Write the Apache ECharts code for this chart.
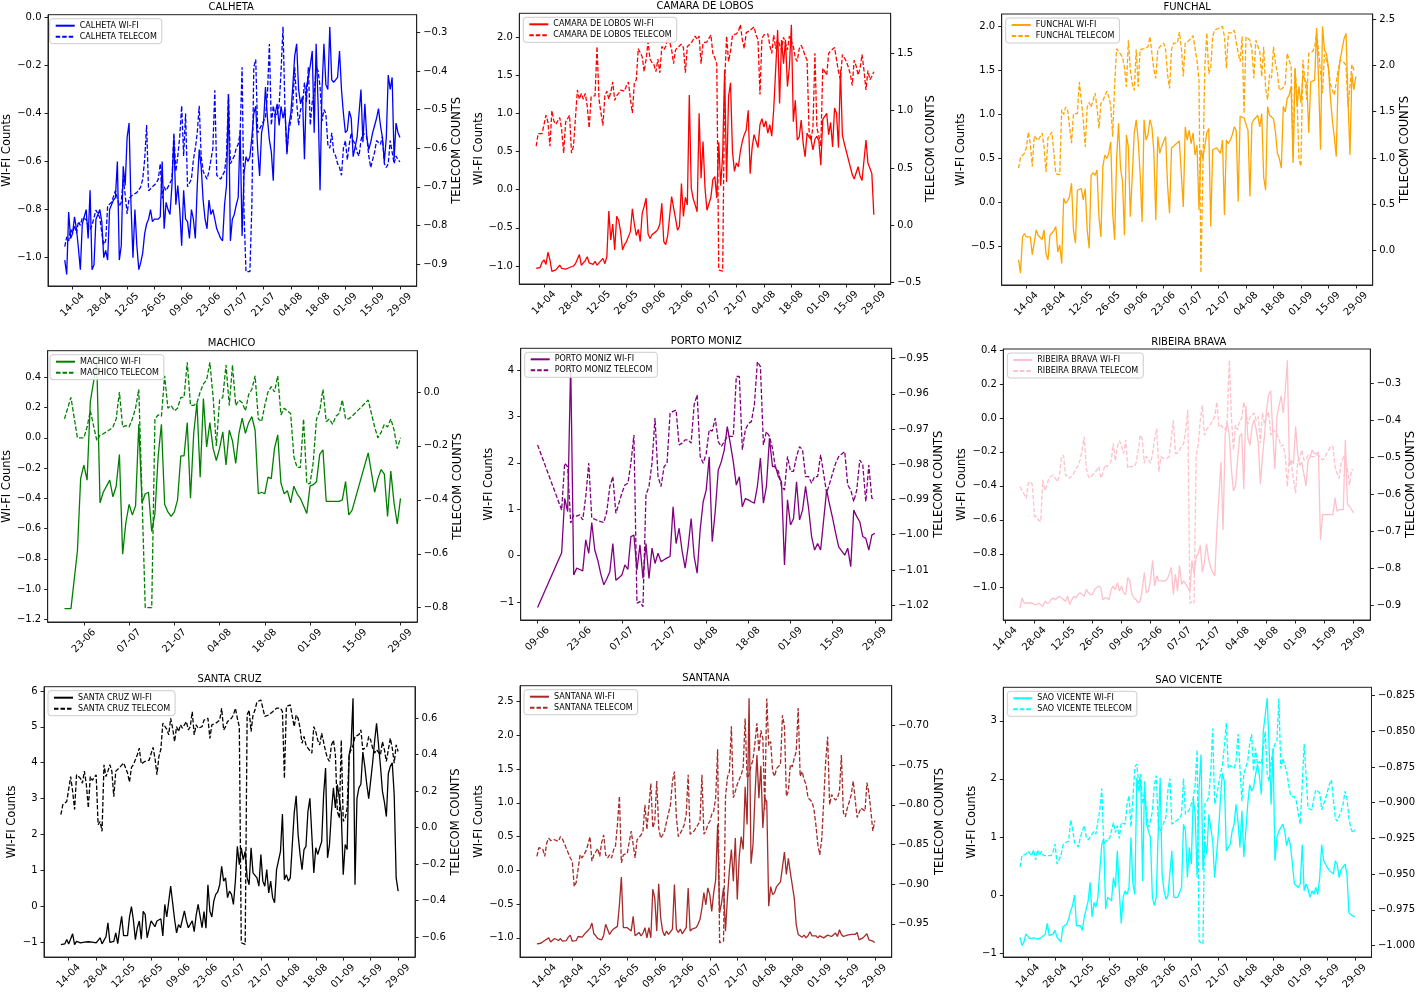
<!DOCTYPE html>
<html><head><meta charset="utf-8">
<script src="https://cdn.jsdelivr.net/npm/echarts@6/dist/echarts.min.js"></script>
<style>html,body{margin:0;padding:0;background:#fff}#c{width:1418px;height:992px}</style>
</head><body><div id="c"></div>
<script>
// ---------- DATA ----------
// x values are days counted from 14-04 (day 0)
const xTickDays = [0,14,28,42,56,70,84,98,112,126,140,154,168];
const xTickLabels = ['14-04','28-04','12-05','26-05','09-06','23-06','07-07','21-07','04-08','18-08','01-09','15-09','29-09'];
const dailyStart = -4;   // 10-04
const ribeiraStart = 7;  // 21-04

const calhetaWifi = [
 -1.01,-1.07,-0.81,-0.92,-0.90,-0.83,-0.88,-0.96,-1.05,-0.86,-0.83,-0.80,-0.92,-0.72,
 -1.05,-1.03,-0.84,-0.82,-0.80,-0.85,-1.00,-0.97,-1.01,-0.80,-0.78,-0.76,-0.75,-0.60,
 -1.01,-0.95,-0.62,-0.70,-0.50,-0.44,-0.78,-1.00,-0.80,-0.95,-1.05,-1.02,-0.98,-0.90,
 -0.86,-0.84,-0.80,-0.85,-0.84,-0.84,-0.84,-0.83,-0.60,-0.88,-0.77,-0.80,-0.82,-0.70,
 -0.50,-0.78,-0.70,-0.80,-0.95,-0.72,-0.84,-0.85,-0.92,-0.80,-0.84,-0.92,-0.70,-0.55,
 -0.62,-0.76,-0.84,-0.88,-0.76,-0.82,-0.80,-0.84,-0.88,-0.90,-0.92,-0.93,-0.78,-0.70,
 -0.32,-0.93,-0.84,-0.82,-0.78,-0.75,-0.47,-0.91,-0.65,-0.58,-0.60,-0.58,-0.50,-0.40,
 -0.37,-0.55,-0.66,-0.48,-0.44,-0.29,-0.42,-0.51,-0.56,-0.68,-0.40,-0.36,-0.45,-0.37,
 -0.42,-0.38,-0.57,-0.45,-0.40,-0.29,-0.16,-0.11,-0.30,-0.36,-0.33,-0.59,-0.29,-0.25,
 -0.20,-0.14,-0.48,-0.11,-0.36,-0.72,-0.30,-0.11,-0.28,-0.30,-0.04,-0.26,-0.27,-0.26,
 -0.25,-0.14,-0.30,-0.40,-0.48,-0.47,-0.39,-0.42,-0.58,-0.58,-0.50,-0.40,-0.30,-0.52,
 -0.36,-0.50,-0.55,-0.52,-0.48,-0.45,-0.42,-0.38,-0.45,-0.50,-0.60,-0.50,-0.24,-0.30,
 -0.25,-0.59,-0.44,-0.48,-0.50];
const calhetaTel = [
 -0.855,-0.83,-0.84,-0.81,-0.82,-0.80,-0.82,-0.79,-0.80,-0.78,-0.78,-0.785,-0.80,-0.81,
 -0.80,-0.78,-0.76,-0.77,-0.78,-0.82,-0.85,-0.84,-0.75,-0.75,-0.74,-0.74,-0.71,-0.73,
 -0.75,-0.74,-0.68,-0.72,-0.77,-0.73,-0.73,-0.72,-0.72,-0.715,-0.71,-0.70,-0.68,-0.63,
 -0.54,-0.71,-0.71,-0.70,-0.70,-0.69,-0.68,-0.64,-0.73,-0.70,-0.71,-0.71,-0.69,-0.68,
 -0.56,-0.66,-0.62,-0.57,-0.49,-0.62,-0.51,-0.70,-0.69,-0.68,-0.63,-0.60,-0.56,-0.49,
 -0.62,-0.66,-0.67,-0.68,-0.66,-0.66,-0.60,-0.45,-0.67,-0.67,-0.68,-0.68,-0.66,-0.62,
 -0.46,-0.64,-0.63,-0.62,-0.60,-0.59,-0.56,-0.39,-0.77,-0.92,-0.92,-0.92,-0.75,-0.39,
 -0.37,-0.56,-0.55,-0.54,-0.54,-0.52,-0.46,-0.33,-0.54,-0.49,-0.52,-0.51,-0.49,-0.40,
 -0.285,-0.50,-0.61,-0.55,-0.53,-0.49,-0.39,-0.48,-0.54,-0.50,-0.49,-0.43,-0.48,-0.39,
 -0.54,-0.48,-0.46,-0.39,-0.40,-0.44,-0.53,-0.50,-0.51,-0.59,-0.60,-0.56,-0.61,-0.62,
 -0.64,-0.65,-0.67,-0.60,-0.58,-0.63,-0.59,-0.56,-0.58,-0.59,-0.61,-0.62,-0.58,-0.56,
 -0.56,-0.57,-0.62,-0.65,-0.65,-0.61,-0.58,-0.58,-0.59,-0.57,-0.64,-0.65,-0.64,-0.58,
 -0.58,-0.64,-0.62,-0.63,-0.635];

const camaraWifi = [
 -1.03,-1.04,-1.02,-0.95,-0.92,-0.98,-0.82,-0.92,-1.07,-1.06,-1.05,-1.06,-0.99,-1.03,
 -1.05,-1.04,-1.03,-1.02,-1.01,-1.00,-0.97,-0.99,-0.85,-0.99,-0.97,-0.93,-0.88,-0.96,
 -0.96,-0.98,-0.94,-0.99,-0.96,-0.98,-0.90,-0.97,-0.88,-0.28,-0.66,-0.45,-0.79,-0.35,
 -0.40,-0.55,-0.79,-0.72,-0.68,-0.66,-0.55,-0.25,-0.45,-0.60,-0.52,-0.68,-0.31,-0.22,
 -0.11,-0.58,-0.64,-0.59,-0.57,-0.55,-0.52,-0.45,-0.18,-0.68,-0.72,-0.60,-0.58,-0.09,
 -0.08,-0.38,-0.53,-0.48,0.08,-0.35,-0.10,-0.20,1.24,0.02,-0.12,-0.20,-0.29,1.00,
 0.15,0.63,0.02,-0.27,-0.27,-0.10,0.13,0.17,-0.11,0.62,0.05,0.45,1.57,0.10,
 1.22,1.40,0.50,0.24,0.35,0.30,0.50,0.63,0.72,0.78,1.04,0.21,0.55,0.72,
 0.72,0.55,0.85,0.93,0.82,0.90,0.74,0.85,0.70,1.05,1.04,2.09,1.13,1.96,
 1.65,1.96,1.35,1.61,2.16,0.89,1.17,0.65,0.69,0.91,0.61,0.43,0.74,0.69,
 0.66,0.52,0.66,0.70,0.64,0.32,0.92,0.90,1.00,0.72,0.88,0.56,1.07,1.00,
 0.55,1.57,0.71,0.60,0.50,0.40,0.30,0.20,0.14,0.12,0.30,0.18,0.12,0.13,
 0.65,0.35,0.28,0.21,-0.33];
const camaraTel = [
 0.69,0.80,0.80,0.80,0.81,0.96,0.90,0.69,1.00,0.91,0.88,0.89,0.94,0.83,
 0.63,0.90,0.91,0.96,0.63,0.69,0.69,1.18,1.10,1.15,1.10,1.15,1.04,0.85,
 1.12,1.12,1.13,1.56,1.10,0.98,0.87,1.13,1.17,1.10,1.16,1.25,1.09,1.13,
 1.15,1.18,1.19,1.17,1.22,1.25,1.10,0.98,1.24,1.27,1.54,1.55,1.47,1.34,
 1.45,1.60,1.45,1.42,1.40,1.34,1.45,1.33,1.56,1.53,1.56,1.64,1.60,1.53,
 1.41,1.53,1.55,1.56,1.58,1.55,1.33,1.56,1.56,1.59,1.59,1.65,1.62,1.65,
 1.41,1.59,1.59,1.60,1.63,1.66,1.50,1.46,1.41,-0.39,-0.40,-0.40,1.24,1.65,
 1.43,1.52,1.66,1.67,1.67,1.69,1.75,1.62,1.54,1.68,1.67,1.70,1.71,1.73,
 1.66,1.62,1.14,1.63,1.66,1.67,1.67,1.57,1.50,1.66,1.54,1.62,1.62,1.53,
 1.64,1.65,1.53,1.65,1.65,1.56,1.46,1.43,1.54,1.57,1.53,1.48,1.44,0.83,
 0.74,0.86,1.50,0.85,0.78,0.69,1.37,1.38,1.31,1.50,1.52,1.53,1.55,1.56,
 1.34,1.27,1.49,1.48,1.43,1.38,1.32,1.22,1.44,1.39,1.31,1.37,1.49,1.35,
 1.18,1.35,1.27,1.30,1.34];

const funchalWifi = [
 -0.65,-0.80,-0.39,-0.35,-0.39,-0.38,-0.39,-0.59,-0.59,-0.31,-0.37,-0.38,-0.42,-0.31,
 -0.58,-0.65,-0.37,-0.35,-0.32,-0.27,-0.56,-0.48,-0.69,0.05,-0.01,0.02,0.07,0.22,
 -0.31,-0.46,0.14,0.14,0.16,0.03,0.16,-0.31,-0.52,0.31,0.34,0.31,0.37,-0.16,
 -0.39,0.41,0.54,0.50,0.56,0.69,-0.12,-0.42,0.50,0.90,0.39,0.24,-0.37,0.77,
 0.63,-0.16,-0.16,0.79,0.94,0.71,0.33,-0.22,0.94,0.71,0.77,0.94,0.86,0.58,
 -0.20,0.75,0.56,0.64,0.66,0.75,0.19,-0.12,0.62,0.64,0.66,0.68,0.70,0.71,
 -0.05,0.86,0.71,0.82,0.67,0.79,0.54,0.65,-0.08,0.60,0.50,0.48,0.79,0.84,
 -0.27,0.60,0.62,0.62,0.60,0.56,0.71,-0.14,0.71,0.67,0.71,0.77,0.86,0.82,
 0.01,0.98,0.98,0.96,0.94,0.82,0.07,0.90,0.94,0.96,0.99,0.86,1.01,0.29,
 0.14,1.09,0.99,0.97,0.95,0.80,0.56,0.50,0.39,1.09,1.03,1.18,1.22,1.32,
 0.45,1.52,1.09,1.32,1.13,1.45,1.39,1.35,0.79,1.37,1.35,1.39,1.98,1.39,
 0.60,2.00,1.73,1.69,1.54,1.20,0.94,0.75,0.52,1.43,1.62,1.62,1.86,1.92,
 1.17,0.54,1.47,1.28,1.43];
const funchalTel = [
 0.89,1.01,1.03,1.05,1.11,1.28,1.15,0.91,1.24,1.22,1.19,1.19,1.27,1.12,
 0.85,1.22,1.24,1.28,1.30,0.83,0.85,0.82,1.52,1.47,1.55,1.52,1.34,1.16,
 1.48,1.50,1.48,1.82,1.62,1.42,1.12,1.55,1.60,1.55,1.62,1.70,1.55,1.32,
 1.59,1.62,1.64,1.72,1.66,1.57,1.23,1.80,2.18,2.20,2.12,2.09,1.98,1.77,
 2.27,1.95,1.80,1.73,2.17,1.77,2.17,2.17,2.18,2.20,2.20,2.31,2.13,1.95,
 1.86,2.17,2.20,2.19,2.24,2.17,1.90,1.75,2.17,2.24,2.22,2.24,2.36,2.20,
 1.88,2.24,2.26,2.27,2.29,2.32,2.34,2.05,1.84,-0.24,-0.24,1.99,2.35,1.91,
 1.97,2.31,2.38,2.40,2.40,2.41,2.42,2.31,1.97,2.35,2.33,2.35,2.38,2.38,
 2.13,2.04,2.31,1.48,2.31,2.31,2.27,2.17,1.86,2.27,2.26,2.15,1.88,2.20,
 1.75,1.63,1.90,1.86,2.20,2.02,1.92,1.73,1.73,1.76,1.80,2.13,2.11,1.98,
 1.01,1.97,1.66,0.98,0.91,2.06,1.85,1.63,2.13,2.13,2.15,2.20,2.35,2.15,
 2.13,1.70,2.12,2.13,1.98,1.80,1.73,1.68,1.66,1.95,2.06,2.06,2.03,2.00,
 1.55,1.77,2.01,1.95,1.95];

const machicoDays = [64,66,68,69,70,71,72,74,75,76,
 78,79,80,81,82,83,84,85,86,87,88,89,90,91,92,93,94,95,96,97,98,99,100,101,102,103,104,105,106,107,108,109,110,111,112,113,114,115,
 116,117,118,119,120,121,122,123,124,125,126,127,128,129,130,131,132,133,134,135,136,137,138,139,140,141,142,143,144,145,146,147,148,149,150,151,152,153,
 158,160,161,162,163,164,165,166,167,168];
const machicoWifi = [-1.13,-1.13,-0.75,-0.27,-0.18,-0.28,0.24,0.50,-0.43,-0.36,
 -0.28,-0.39,-0.32,-0.11,-0.77,-0.56,-0.44,-0.51,-0.45,0.09,-0.43,-0.37,-0.36,-0.62,-0.50,-0.12,0.09,-0.44,-0.49,-0.52,-0.49,-0.41,-0.12,-0.12,0.10,-0.40,0.03,0.23,-0.26,0.26,-0.06,0.10,-0.07,-0.15,-0.07,0.04,-0.18,0.05,
 -0.02,-0.17,0.03,0.13,0.03,0.10,0.14,0.05,-0.37,-0.36,-0.37,-0.26,-0.27,-0.07,0.02,-0.30,-0.37,-0.35,-0.43,-0.32,-0.37,-0.40,-0.45,-0.50,-0.32,-0.31,-0.29,-0.11,-0.08,-0.42,-0.42,-0.42,-0.42,-0.42,-0.41,-0.29,-0.51,-0.48,
 -0.10,-0.36,-0.27,-0.21,-0.24,-0.52,-0.22,-0.43,-0.57,-0.40];
const machicoTel = [-0.10,-0.02,-0.17,-0.17,-0.17,-0.13,-0.07,-0.18,-0.16,-0.155,
 -0.14,-0.13,-0.10,0.00,-0.13,-0.125,-0.13,-0.10,-0.06,0.01,-0.39,-0.80,-0.80,-0.80,-0.10,-0.085,-0.09,0.06,-0.06,-0.05,-0.07,-0.06,-0.02,-0.02,0.11,-0.05,-0.05,-0.04,0.00,0.03,0.045,0.11,-0.02,-0.20,-0.03,-0.02,0.10,-0.05,
 0.10,-0.05,-0.03,-0.04,-0.07,-0.01,0.01,0.06,-0.10,-0.11,-0.05,0.00,0.02,0.00,0.06,-0.085,-0.06,-0.07,-0.08,-0.24,-0.28,-0.28,-0.10,-0.34,-0.34,-0.26,-0.10,-0.07,0.01,-0.11,-0.10,-0.12,-0.09,-0.08,-0.03,-0.10,-0.10,-0.09,
 -0.03,-0.13,-0.17,-0.15,-0.12,-0.13,-0.10,-0.14,-0.21,-0.17];

const portoDays = [56,
 64,65,66,67,68,69,70,71,72,73,74,75,76,77,78,79,80,81,82,83,84,85,86,87,88,89,90,91,92,93,94,95,96,97,98,99,100,101,102,103,104,105,106,107,
 108,109,110,111,112,113,114,115,116,117,118,119,120,121,122,123,124,125,126,127,128,129,130,131,132,133,134,135,136,137,138,139,140,141,142,143,144,145,146,147,148,149,150,
 152,153,154,155,156,158,159,160,161,162,163,164,165,166,167,168];
const portoWifi = [-1.12,
 0.06,1.23,0.95,4.15,-0.42,-0.27,-0.30,-0.33,0.34,0.05,0.71,0.12,-0.10,-0.40,-0.63,-0.50,-0.35,0.26,-0.53,-0.48,-0.42,-0.20,-0.30,0.41,0.44,-0.31,0.23,-0.49,0.26,-0.49,0.16,-0.17,0.05,-0.13,-0.09,-0.05,-0.02,1.05,0.26,0.59,0.10,-0.27,0.19,0.80,
 -0.02,-0.38,0.56,1.16,1.41,2.13,0.30,0.95,1.84,2.02,2.28,2.78,2.42,2.02,1.52,1.70,1.05,1.23,1.20,1.16,1.13,1.49,2.10,1.13,1.49,2.53,1.92,1.92,1.70,1.59,-0.20,1.20,0.66,0.80,1.59,0.77,0.98,1.49,1.02,0.41,0.12,0.26,0.12,
 1.41,1.09,0.80,0.48,0.19,0.01,0.16,-0.24,0.98,0.84,0.73,0.41,0.37,0.12,0.44,0.48];
const portoTel = [-0.9745,
 -0.9930,-0.9797,-0.9807,-0.9967,-0.9944,-0.9947,-0.9944,-0.9958,-0.9892,-0.9797,-0.9953,-0.9956,-0.9960,-0.9963,-0.9965,-0.9934,-0.9863,-0.9835,-0.9939,-0.9911,-0.9882,-0.9859,-0.9854,-0.9797,-0.9717,-1.0194,-1.0190,-1.0204,-0.9887,-0.9863,-0.9797,-0.9669,-0.9835,-0.9863,-0.9807,-0.9797,-0.9655,-0.9650,-0.9646,-0.9745,-0.9740,-0.9731,-0.9731,-0.9740,
 -0.9631,-0.9603,-0.9778,-0.9797,-0.9770,-0.9702,-0.9706,-0.9669,-0.9736,-0.9750,-0.9736,-0.9721,-0.9721,-0.9721,-0.9551,-0.9551,-0.9759,-0.9702,-0.9684,-0.9679,-0.9631,-0.9509,-0.9523,-0.9745,-0.9707,-0.9721,-0.9754,-0.9811,-0.9820,-0.9863,-0.9873,-0.9778,-0.9820,-0.9820,-0.9778,-0.9750,-0.9759,-0.9835,-0.9835,-0.9854,-0.9835,-0.9835,-0.9773,
 -0.9882,-0.9854,-0.9825,-0.9797,-0.9778,-0.9764,-0.9859,-0.9873,-0.9906,-0.9873,-0.9788,-0.9802,-0.9906,-0.9802,-0.9896,-0.9901];

const ribeiraWifi = [
 -1.12,-1.06,-1.09,-1.09,-1.09,-1.09,-1.09,-1.10,-1.10,-1.09,-1.10,-1.11,-1.08,-1.09,
 -1.09,-1.07,-1.06,-1.07,-1.06,-1.05,-1.06,-1.07,-1.08,-1.05,-1.10,-1.07,-1.05,-1.06,
 -1.04,-1.03,-1.04,-1.05,-1.01,-1.03,-1.04,-1.04,-1.01,-1.00,-0.99,-1.00,-1.07,-1.06,
 -1.06,-1.07,-1.01,-0.99,-1.01,-0.97,-1.02,-0.99,-1.03,-1.04,-0.94,-0.96,-1.04,-1.06,
 -1.07,-1.09,-1.08,-1.01,-0.91,-1.03,-1.02,-0.95,-0.84,-0.99,-0.93,-0.96,-0.96,-0.96,
 -0.96,-0.95,-0.92,-0.88,-1.04,-0.92,-1.02,-0.87,-0.98,-0.96,-0.98,-1.00,-1.02,-0.84,
 -0.92,-0.82,-0.80,-0.75,-0.91,-0.85,-0.74,-0.83,-0.88,-0.91,-0.93,-0.66,-0.46,-0.26,
 -0.66,-0.10,-0.03,-0.10,-0.30,-0.43,-0.40,-0.25,-0.11,-0.09,-0.42,0.07,-0.12,-0.16,
 -0.05,-0.01,-0.07,-0.15,-0.39,-0.23,-0.10,0.05,0.14,0.16,-0.09,-0.30,0.01,0.07,
 0.13,0.03,0.16,0.34,-0.28,-0.25,-0.27,-0.05,-0.21,-0.28,-0.26,-0.33,-0.40,-0.25,
 -0.23,-0.19,-0.21,-0.21,-0.20,-0.72,-0.57,-0.57,-0.57,-0.57,-0.57,-0.57,-0.47,-0.55,
 -0.54,-0.54,-0.54,-0.13,-0.51,-0.52,-0.54,-0.56];
const ribeiraTel = [
 -0.579,-0.59,-0.60,-0.611,-0.57,-0.565,-0.575,-0.66,-0.66,-0.67,-0.674,-0.561,-0.59,-0.575,
 -0.555,-0.552,-0.548,-0.556,-0.566,-0.552,-0.50,-0.494,-0.55,-0.548,-0.556,-0.552,-0.543,-0.530,
 -0.525,-0.507,-0.48,-0.444,-0.53,-0.552,-0.556,-0.547,-0.543,-0.535,-0.525,-0.556,-0.543,-0.52,
 -0.525,-0.52,-0.51,-0.462,-0.51,-0.47,-0.455,-0.47,-0.49,-0.453,-0.53,-0.525,-0.525,-0.525,
 -0.516,-0.485,-0.44,-0.45,-0.516,-0.497,-0.507,-0.516,-0.49,-0.45,-0.422,-0.539,-0.498,-0.503,
 -0.503,-0.503,-0.498,-0.45,-0.40,-0.489,-0.489,-0.48,-0.47,-0.462,-0.426,-0.372,-0.895,-0.89,
 -0.895,-0.498,-0.466,-0.40,-0.359,-0.44,-0.426,-0.417,-0.41,-0.40,-0.39,-0.35,-0.418,-0.413,
 -0.42,-0.426,-0.40,-0.237,-0.39,-0.48,-0.413,-0.426,-0.40,-0.395,-0.35,-0.38,-0.41,-0.39,
 -0.386,-0.38,-0.40,-0.39,-0.462,-0.38,-0.41,-0.39,-0.377,-0.44,-0.426,-0.43,-0.437,-0.45,
 -0.47,-0.466,-0.497,-0.579,-0.50,-0.52,-0.56,-0.597,-0.51,-0.503,-0.48,-0.507,-0.507,-0.494,
 -0.498,-0.498,-0.498,-0.494,-0.494,-0.50,-0.507,-0.503,-0.489,-0.48,-0.47,-0.47,-0.525,-0.543,
 -0.557,-0.515,-0.50,-0.494,-0.534,-0.575,-0.534,-0.534];

const santaCruzWifi = [
 -1.07,-1.06,-1.05,-0.93,-1.05,-1.02,-0.77,-1.07,-0.98,-0.93,-1.02,-0.99,-1.00,-0.99,
 -0.99,-1.01,-1.00,-0.95,-1.02,-1.07,-0.88,-1.05,-1.00,-0.85,-0.46,-1.01,-1.00,-0.98,
 -0.74,-1.04,-0.64,-0.28,-0.82,-0.86,-0.82,-0.30,-0.01,-0.39,-0.93,-0.60,-0.41,-0.92,
 -0.14,-0.23,-0.88,-0.64,-0.41,-0.41,-0.57,-0.41,-0.37,-0.35,-0.83,0.05,-0.30,-0.28,
 0.56,0.56,-0.37,-0.74,-0.51,-0.60,-0.60,-0.13,-0.40,-0.60,-0.65,-0.41,-0.71,-0.25,
 0.05,0.00,-0.60,-0.15,-0.61,0.60,-0.14,-0.30,0.15,0.33,0.40,0.60,1.11,0.70,
 0.79,0.24,0.42,0.33,0.05,0.70,1.67,1.16,1.63,1.30,1.53,0.79,0.60,1.63,
 0.93,0.88,0.79,0.56,1.44,0.70,0.56,1.02,0.37,0.70,0.24,0.10,1.02,1.02,
 1.53,2.57,0.74,0.88,0.70,0.79,0.83,2.60,3.08,1.99,1.44,1.02,1.58,1.67,
 2.64,3.01,3.06,0.93,1.63,1.44,1.63,1.80,3.11,3.85,1.35,1.72,2.64,3.30,
 2.74,3.39,3.01,2.60,0.88,1.72,1.58,4.22,4.50,5.80,0.60,3.00,3.30,3.40,
 4.30,3.90,3.40,3.00,3.50,4.00,4.60,5.10,4.50,3.90,3.20,2.90,2.50,3.70,
 3.90,4.00,3.10,0.79,0.42];
const santaCruzTel = [
 0.071,0.126,0.135,0.144,0.153,0.28,0.20,0.10,0.29,0.29,0.27,0.244,0.31,0.236,
 0.108,0.28,0.26,0.27,0.29,0.016,0.034,-0.02,0.345,0.28,0.31,0.345,0.31,0.17,
 0.31,0.32,0.33,0.34,0.355,0.36,0.30,0.25,0.33,0.345,0.345,0.40,0.436,0.35,
 0.355,0.364,0.364,0.37,0.36,0.44,0.38,0.29,0.39,0.43,0.573,0.565,0.54,0.509,
 0.60,0.545,0.472,0.554,0.527,0.564,0.545,0.536,0.582,0.536,0.554,0.636,0.509,0.564,
 0.545,0.545,0.554,0.59,0.59,0.60,0.49,0.564,0.564,0.573,0.582,0.59,0.655,0.536,
 0.554,0.582,0.59,0.60,0.618,0.655,0.60,0.554,-0.631,-0.64,-0.64,0.618,0.645,0.527,
 0.618,0.645,0.69,0.69,0.70,0.69,0.61,0.609,0.618,0.627,0.636,0.645,0.655,0.664,
 0.655,0.636,0.27,0.664,0.664,0.673,0.61,0.554,0.618,0.60,0.545,0.463,0.50,0.454,
 0.436,0.427,0.409,0.554,0.527,0.48,0.454,0.518,0.509,0.418,0.38,0.363,0.454,0.48,
 0.40,0.09,0.053,0.48,0.035,0.053,0.108,0.40,0.427,0.45,0.50,0.51,0.51,0.536,
 0.427,0.418,0.445,0.50,0.48,0.436,0.409,0.427,0.436,0.40,0.472,0.427,0.363,0.427,
 0.49,0.436,0.354,0.454,0.418];

const santanaWifi = [
 -1.09,-1.11,-1.08,-1.06,-1.04,-1.04,-1.00,-1.06,-1.05,-1.01,-1.00,-1.04,-1.01,-1.05,
 -1.04,-1.04,-0.99,-0.96,-1.05,-1.03,-1.04,-0.98,-0.96,-0.99,-0.98,-0.92,-0.94,-0.86,
 -0.78,-0.94,-0.97,-1.01,-1.02,-1.03,-0.96,-0.80,-0.78,-0.95,-0.90,-0.87,-0.89,-0.83,
 -0.51,-0.10,-0.85,-0.85,-0.85,-0.87,-0.90,-0.68,-0.97,-0.97,-0.92,-0.97,-0.93,-0.85,
 -1.00,-0.85,-1.00,-0.28,-0.41,-0.90,-0.20,-0.70,-0.90,-0.97,-0.90,-0.95,-0.97,-0.87,
 -0.21,-0.87,-0.92,-0.87,-0.94,-0.92,-0.85,-0.26,-0.90,-0.87,-0.87,-0.85,-0.80,-0.73,
 -0.56,-0.33,-0.51,-0.26,-0.36,-0.61,-0.33,-0.14,0.68,-0.63,-0.48,-0.26,-0.90,-0.40,
 0.01,0.31,-0.16,0.48,-0.43,0.21,0.50,0.31,1.24,0.68,2.55,0.10,0.38,1.10,
 1.71,1.07,1.55,0.63,1.07,1.02,-0.53,-0.24,-0.36,-0.33,-0.24,-0.26,-0.17,-0.18,
 0.27,-0.06,0.18,-0.03,-0.05,-0.41,-0.80,-0.95,-0.97,-0.99,-0.96,-1.00,-0.97,-0.91,
 -0.97,-0.99,-0.97,-1.00,-0.97,-0.98,-1.00,-0.99,-0.96,-0.98,-0.98,-1.00,-0.93,-0.98,
 -0.88,-0.95,-0.98,-0.97,-0.96,-0.96,-0.95,-0.97,-0.95,-0.92,-1.03,-1.01,-1.00,-0.99,
 -0.94,-1.03,-1.01,-1.05,-1.07];
const santanaTel = [
 -0.865,-0.854,-0.853,-0.856,-0.865,-0.848,-0.842,-0.845,-0.846,-0.844,-0.842,-0.846,-0.840,-0.843,
 -0.849,-0.851,-0.861,-0.867,-0.871,-0.903,-0.898,-0.896,-0.863,-0.867,-0.866,-0.858,-0.850,-0.840,
 -0.871,-0.863,-0.861,-0.855,-0.865,-0.847,-0.838,-0.863,-0.867,-0.863,-0.867,-0.857,-0.852,-0.825,
 -0.789,-0.873,-0.863,-0.861,-0.861,-0.859,-0.833,-0.833,-0.867,-0.844,-0.844,-0.838,-0.833,-0.800,
 -0.831,-0.833,-0.773,-0.829,-0.821,-0.770,-0.829,-0.842,-0.838,-0.833,-0.821,-0.819,-0.800,-0.770,
 -0.758,-0.816,-0.840,-0.836,-0.831,-0.825,-0.812,-0.762,-0.837,-0.835,-0.833,-0.829,-0.829,-0.821,
 -0.762,-0.837,-0.833,-0.825,-0.821,-0.812,-0.808,-0.791,-0.730,-0.974,-0.976,-0.972,-0.790,-0.765,
 -0.758,-0.701,-0.791,-0.783,-0.774,-0.772,-0.762,-0.753,-0.691,-0.766,-0.762,-0.751,-0.743,-0.722,
 -0.697,-0.733,-0.706,-0.716,-0.806,-0.666,-0.725,-0.720,-0.758,-0.764,-0.754,-0.756,-0.749,-0.687,
 -0.701,-0.789,-0.783,-0.749,-0.752,-0.741,-0.733,-0.678,-0.764,-0.758,-0.768,-0.774,-0.791,-0.791,
 -0.796,-0.805,-0.825,-0.850,-0.863,-0.843,-0.795,-0.745,-0.714,-0.800,-0.787,-0.791,-0.794,-0.791,
 -0.783,-0.737,-0.810,-0.815,-0.804,-0.796,-0.787,-0.770,-0.768,-0.816,-0.810,-0.804,-0.804,-0.808,
 -0.772,-0.785,-0.808,-0.833,-0.820];

const saoVicenteWifi = [
 -0.73,-0.87,-0.81,-0.67,-0.70,-0.75,-0.73,-0.74,-0.75,-0.76,-0.77,-0.73,-0.70,-0.67,
 -0.49,-0.70,-0.70,-0.67,-0.61,-0.73,-0.75,-0.81,-0.55,-0.58,-0.50,-0.41,-0.27,-0.18,
 0.00,-0.53,-0.55,-0.53,-0.61,-0.38,-0.38,-0.10,0.22,-0.38,-0.13,-0.21,-0.04,0.43,
 0.87,0.96,-0.24,-0.04,-0.04,-0.10,0.30,0.13,0.76,0.07,-0.49,-0.04,0.07,0.01,
 0.13,0.99,0.19,0.01,2.02,1.79,1.99,0.24,1.96,1.22,1.10,0.99,-0.04,-0.18,
 -0.04,1.10,2.02,0.36,0.07,-0.07,-0.01,-0.04,0.76,-0.04,-0.04,-0.04,-0.04,0.13,
 1.22,1.10,0.30,0.82,0.53,1.67,1.39,0.30,1.85,2.42,0.42,0.93,0.70,1.39,
 1.16,0.93,0.30,0.30,1.10,1.67,2.10,1.96,0.76,0.82,0.87,1.10,1.22,1.56,
 1.27,0.82,1.45,0.65,1.10,1.56,1.90,1.79,1.85,2.07,2.25,2.05,1.73,2.82,
 3.10,3.39,2.53,1.56,2.53,0.59,0.99,1.10,1.07,1.22,1.10,0.85,0.99,0.85,
 0.85,0.19,0.16,0.13,0.19,0.87,0.07,0.19,0.10,-0.04,0.07,0.01,0.13,0.01,
 0.30,0.87,0.59,0.53,0.47,0.42,0.39,0.36,0.59,0.53,0.30,0.44,0.47,0.53,
 0.36,-0.31,-0.34,-0.36,-0.38];
const saoVicenteTel = [
 -0.945,-0.937,-0.937,-0.936,-0.934,-0.934,-0.937,-0.933,-0.940,-0.933,-0.937,-0.934,-0.937,-0.936,
 -0.937,-0.936,-0.937,-0.934,-0.929,-0.943,-0.942,-0.937,-0.930,-0.928,-0.927,-0.927,-0.912,-0.918,
 -0.928,-0.929,-0.931,-0.924,-0.924,-0.916,-0.924,-0.926,-0.925,-0.922,-0.920,-0.922,-0.913,-0.905,
 -0.890,-0.929,-0.927,-0.926,-0.925,-0.925,-0.914,-0.921,-0.916,-0.925,-0.914,-0.913,-0.915,-0.901,
 -0.895,-0.917,-0.897,-0.875,-0.873,-0.887,-0.880,-0.901,-0.892,-0.906,-0.917,-0.913,-0.906,-0.888,
 -0.881,-0.915,-0.920,-0.917,-0.916,-0.910,-0.891,-0.883,-0.915,-0.915,-0.913,-0.913,-0.911,-0.908,
 -0.883,-0.908,-0.909,-0.905,-0.901,-0.897,-0.887,-0.863,-0.997,-0.998,-0.999,-0.901,-0.899,-0.896,
 -0.878,-0.848,-0.901,-0.896,-0.887,-0.880,-0.873,-0.861,-0.844,-0.876,-0.874,-0.874,-0.876,-0.871,
 -0.852,-0.851,-0.899,-0.880,-0.880,-0.871,-0.859,-0.852,-0.878,-0.862,-0.873,-0.871,-0.873,-0.873,
 -0.850,-0.880,-0.885,-0.871,-0.864,-0.859,-0.857,-0.827,-0.876,-0.869,-0.870,-0.878,-0.887,-0.895,
 -0.896,-0.896,-0.899,-0.908,-0.915,-0.887,-0.859,-0.858,-0.904,-0.904,-0.905,-0.897,-0.891,-0.890,
 -0.893,-0.905,-0.901,-0.897,-0.892,-0.887,-0.884,-0.884,-0.911,-0.913,-0.913,-0.906,-0.901,-0.892,
 -0.897,-0.911,-0.918,-0.921,-0.919];

// tick values
const calhetaLeftTicks = [-1.0,-0.8,-0.6,-0.4,-0.2,0.0];
const calhetaRightTicks = [-0.9,-0.8,-0.7,-0.6,-0.5,-0.4,-0.3];
const camaraLeftTicks = [-1.0,-0.5,0.0,0.5,1.0,1.5,2.0];
const camaraRightTicks = [-0.5,0.0,0.5,1.0,1.5];
const funchalLeftTicks = [-0.5,0.0,0.5,1.0,1.5,2.0];
const funchalRightTicks = [0.0,0.5,1.0,1.5,2.0,2.5];
const machicoLeftTicks = [-1.2,-1.0,-0.8,-0.6,-0.4,-0.2,0.0,0.2,0.4];
const machicoRightTicks = [-0.8,-0.6,-0.4,-0.2,0.0];
const portoLeftTicks = [-1,0,1,2,3,4];
const portoRightTicks = [-1.02,-1.01,-1.00,-0.99,-0.98,-0.97,-0.96,-0.95];
const ribeiraLeftTicks = [-1.0,-0.8,-0.6,-0.4,-0.2,0.0,0.2,0.4];
const ribeiraRightTicks = [-0.9,-0.8,-0.7,-0.6,-0.5,-0.4,-0.3];
const santaCruzLeftTicks = [-1,0,1,2,3,4,5,6];
const santaCruzRightTicks = [-0.6,-0.4,-0.2,0.0,0.2,0.4,0.6];
const santanaLeftTicks = [-1.0,-0.5,0.0,0.5,1.0,1.5,2.0,2.5];
const santanaRightTicks = [-0.95,-0.90,-0.85,-0.80,-0.75,-0.70];
const saoLeftTicks = [-1,0,1,2,3];
const saoRightTicks = [-1.000,-0.975,-0.950,-0.925,-0.900,-0.875,-0.850,-0.825];

// ---------- PANELS (layout + styling) ----------
const panels = [
 {name:'CALHETA', color:'#0000ff', start:dailyStart, wifi:calhetaWifi, tel:calhetaTel, lt:calhetaLeftTicks, ld:1, rt:calhetaRightTicks, rd:1, ly:[-1.118,0.011], ry:[-0.957,-0.254], box:[45.7,14.7,371,271.3], lg:35, rg:34},
 {name:'CAMARA DE LOBOS', color:'#ff0000', start:dailyStart, wifi:camaraWifi, tel:camaraTel, lt:camaraLeftTicks, ld:1, rt:camaraRightTicks, rd:1, ly:[-1.236,2.31], ry:[-0.512,1.849], box:[519.3,13.3,371.4,270.7], lg:34, rg:33},
 {name:'FUNCHAL', color:'#ffa500', start:dailyStart, wifi:funchalWifi, tel:funchalTel, lt:funchalLeftTicks, ld:1, rt:funchalRightTicks, rd:1, ly:[-0.935,2.14], ry:[-0.37,2.554], box:[1001.7,14,371,271], lg:35, rg:24},
 {name:'MACHICO', color:'#008000', days:machicoDays, wifi:machicoWifi, tel:machicoTel, lt:machicoLeftTicks, ld:1, rt:machicoRightTicks, rd:1, ly:[-1.218,0.576], ry:[-0.853,0.153], box:[46,350.7,371.3,271.3], lg:34, rg:34},
 {name:'PORTO MONIZ', color:'#800080', days:portoDays, wifi:portoWifi, tel:portoTel, lt:portoLeftTicks, ld:0, rt:portoRightTicks, rd:2, ly:[-1.388,4.467], ry:[-1.0242,-0.9471], box:[520.7,348.3,371,271.7], lg:26, rg:40},
 {name:'RIBEIRA BRAVA', color:'#ffc0cb', start:ribeiraStart, wifi:ribeiraWifi, tel:ribeiraTel, lt:ribeiraLeftTicks, ld:1, rt:ribeiraRightTicks, rd:1, ly:[-1.19,0.406], ry:[-0.94,-0.207], box:[1003.3,349,371,271], lg:35, rg:34},
 {name:'SANTA CRUZ', color:'#000000', start:dailyStart, wifi:santaCruzWifi, tel:santaCruzTel, lt:santaCruzLeftTicks, ld:0, rt:santaCruzRightTicks, rd:1, ly:[-1.417,6.12], ry:[-0.7095,0.773], box:[44,686.7,371,271], lg:26, rg:34},
 {name:'SANTANA', color:'#a52a2a', start:dailyStart, wifi:santanaWifi, tel:santanaTel, lt:santanaLeftTicks, ld:1, rt:santanaRightTicks, rd:2, ly:[-1.285,2.737], ry:[-0.992,-0.6497], box:[520,685.7,371.7,272], lg:35, rg:42},
 {name:'SAO VICENTE', color:'#00ffff', start:dailyStart, wifi:saoVicenteWifi, tel:saoVicenteTel, lt:saoLeftTicks, ld:0, rt:saoRightTicks, rd:3, ly:[-1.069,3.577], ry:[-1.0081,-0.8192], box:[1003.3,687.3,371,271], lg:25, rg:null}
];

function fmt(v, d) { return Number(v).toFixed(d).replace('-', '\u2212'); }
function toPairs(p, arr) {
  return arr.map((v, i) => [p.days ? p.days[i] : p.start + i, v]);
}

const FONT = 'DejaVu Sans';
const AX = '#222';
const option = {
  animation: false,
  backgroundColor: '#fff',
  textStyle: { fontFamily: FONT },
  title: [], legend: [], grid: [], xAxis: [], yAxis: [], series: []
};

panels.forEach((p, i) => {
  const wData = toPairs(p, p.wifi), tData = toPairs(p, p.tel);
  const first = wData[0][0], last = wData[wData.length - 1][0];
  const span = last - first;
  const xmin = first - 0.05 * span, xmax = last + 0.05 * span;
  const xt = xTickDays.filter(d => d >= xmin && d <= xmax);
  const [gl, gt, gw, gh] = p.box;
  const wName = p.name + ' WI-FI', tName = p.name + ' TELECOM';

  option.grid.push({ left: gl, top: gt, width: gw, height: gh, show: true, borderColor: AX, borderWidth: 1, backgroundColor: 'transparent' });
  option.title.push({ text: p.name, left: gl + gw / 2, top: gt - 12, textAlign: 'center', padding: 0,
    textStyle: { fontSize: 10, fontWeight: 'normal', color: '#000', fontFamily: FONT } });
  option.legend.push({ data: [wName, tName], orient: 'vertical', left: gl + 4, top: gt + 4,
    itemWidth: 19, itemHeight: 8, itemGap: 3, padding: [3, 5, 3, 5],
    itemStyle: { opacity: 0 },
    borderColor: '#cccccc', borderWidth: 1, borderRadius: 3, backgroundColor: 'rgba(255,255,255,0.85)',
    textStyle: { fontSize: 8, color: '#000', fontFamily: FONT } });
  option.xAxis.push({ type: 'value', gridIndex: i, min: xmin, max: xmax, splitLine: { show: false },
    axisLine: { show: true, onZero: false, lineStyle: { color: AX } },
    axisTick: { show: true, length: 3.5, customValues: xt, lineStyle: { color: AX } },
    axisLabel: { customValues: xt, rotate: 45, align: 'center', verticalAlign: 'middle', margin: 19, fontSize: 10, color: '#000', fontFamily: FONT,
      formatter: v => { const k = xTickDays.indexOf(Math.round(v)); return k >= 0 ? xTickLabels[k] : ''; } } });
  option.yAxis.push({ type: 'value', gridIndex: i, position: 'left', min: p.ly[0], max: p.ly[1], splitLine: { show: false },
    axisLine: { show: true, onZero: false, lineStyle: { color: AX } },
    axisTick: { show: true, length: 3.5, customValues: p.lt, lineStyle: { color: AX } },
    axisLabel: { customValues: p.lt, margin: 6.5, fontSize: 10, color: '#000', fontFamily: FONT, formatter: v => fmt(v, p.ld) },
    name: 'WI-FI Counts', nameLocation: 'middle', nameRotate: 90, nameGap: p.lg,
    nameTextStyle: { fontSize: 11.5, color: '#000', fontFamily: FONT } });
  const ry = { type: 'value', gridIndex: i, position: 'right', min: p.ry[0], max: p.ry[1], splitLine: { show: false },
    axisLine: { show: true, onZero: false, lineStyle: { color: AX } },
    axisTick: { show: true, length: 3.5, customValues: p.rt, lineStyle: { color: AX } },
    axisLabel: { customValues: p.rt, margin: 6.5, fontSize: 10, color: '#000', fontFamily: FONT, formatter: v => fmt(v, p.rd) } };
  if (p.rg !== null) {
    Object.assign(ry, { name: 'TELECOM COUNTS', nameLocation: 'middle', nameRotate: 90, nameGap: p.rg,
      nameTextStyle: { fontSize: 11.5, color: '#000', fontFamily: FONT } });
  }
  option.yAxis.push(ry);
  option.series.push({ type: 'line', name: wName, xAxisIndex: i, yAxisIndex: 2 * i, data: wData,
    symbol: 'none', showSymbol: false, silent: true, z: 2,
    lineStyle: { color: p.color, width: 1.3, type: 'solid' }, itemStyle: { color: p.color } });
  option.series.push({ type: 'line', name: tName, xAxisIndex: i, yAxisIndex: 2 * i + 1, data: tData,
    symbol: 'none', showSymbol: false, silent: true, z: 3,
    lineStyle: { color: p.color, width: 1.3, type: [4.5, 2] }, itemStyle: { color: p.color } });
});

const chart = echarts.init(document.getElementById('c'), null, { renderer: 'canvas' });
chart.setOption(option);
</script>
</body></html>
